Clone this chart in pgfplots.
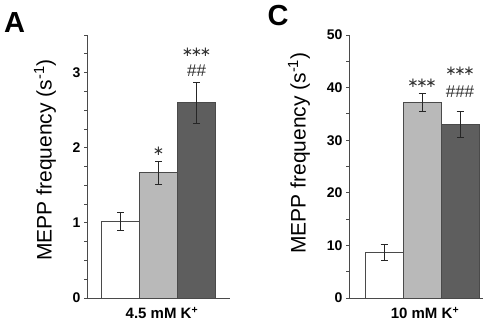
\documentclass[border=0pt]{standalone}
\usepackage{pgfplots}
\pgfplotsset{compat=1.18}
\usepackage{fontspec}
\setmainfont{Liberation Sans}
\newfontfamily\djv{DejaVu Sans}
\definecolor{lg}{HTML}{B9B9B9}
\definecolor{dg}{HTML}{5E5E5E}
\definecolor{ax}{HTML}{4A4A4A}
\definecolor{tx}{HTML}{303030}
\pgfplotsset{
  panel/.style={
    scale only axis, anchor=south west,
    height=263bp,
    axis x line=bottom, axis y line=left,
    axis line style={-, draw=ax, line width=0.9bp},
    xtick=\empty,
    tick align=outside,
    major tick length=3bp, minor tick length=3bp,
    every tick/.style={draw=ax, line width=0.8bp},
    ymin=0,
    /pgf/number format/assume math mode=true,
    tick label style={font=\fontsize{14bp}{16bp}\selectfont\bfseries},
    every axis plot/.append style={ybar, bar width=1, bar shift=0pt, draw=ax, line width=0.9bp,
      error bars/y dir=both, error bars/y explicit,
      error bars/error bar style={draw=black!85, line width=0.8bp},
      error bars/error mark options={rotate=90, mark size=3.5bp, draw=black!85, line width=0.8bp}},
    clip=false,
  },
  ylab/.style={every axis y label/.style={at={(axis description cs:#1)}, rotate=90, anchor=center,
      font=\fontsize{21bp}{24bp}\selectfont}},
  xlab/.style={every axis x label/.style={at={(axis description cs:#1,0)}, anchor=center, yshift=-15bp,
      font=\fontsize{15bp}{17bp}\selectfont\bfseries}},
}
\tikzset{
  star/.style={text=tx, inner sep=0pt, font=\fontsize{13.5bp}{15bp}\djv},
  hash/.style={text=tx, inner sep=0pt, font=\fontsize{17bp}{19bp}\selectfont},
}
\newcommand\three{∗\kern-2.3bp∗\kern-2.3bp∗}
\begin{document}
\begin{tikzpicture}
\path[use as bounding box] (0,0) rectangle (497bp,327bp);
\node[font=\fontsize{29bp}{31bp}\selectfont\bfseries, anchor=center, inner sep=0pt] at (14.5bp,304.5bp) {A};
\node[font=\fontsize{29bp}{31bp}\selectfont\bfseries, anchor=center, inner sep=0pt] at (278bp,311bp) {C};
% Panel A
\begin{axis}[panel, at={(87bp,29bp)}, width=143bp,
  xmin=0.118, xmax=3.88, ymax=3.5,
  ytick={0,1,2,3}, minor ytick={0.25,0.5,0.75,1.25,1.5,1.75,2.25,2.5,2.75,3.25,3.5},
  ylab={-0.294,0.525}, xlab=0.524,
  ylabel={MEPP frequency (s\textsuperscript{-1})},
  xlabel={4.5 mM K\textsuperscript{+}}]
\addplot[fill=white] coordinates {(1,1.02) +- (0,0.115)};
\addplot[fill=lg] coordinates {(2,1.667) +- (0,0.155)};
\addplot[fill=dg] coordinates {(3,2.596) +- (0,0.275)};
\node[star] at (axis cs:2,1.95) {∗};
\node[star] at (axis cs:3,3.27) {\three};
\node[hash] at (axis cs:3,3.02) {\#\#};
\end{axis}
% Panel C
\begin{axis}[panel, at={(349bp,29bp)}, width=134bp,
  xmin=0.079, xmax=3.605, ymax=50,
  ytick={0,10,20,30,40,50}, minor ytick={5,15,25,35,45},
  ylab={-0.373,0.551}, xlab=0.567,
  ylabel={MEPP frequency (s\textsuperscript{-1})},
  xlabel={10 mM K\textsuperscript{+}}]
\addplot[fill=white] coordinates {(1,8.7) +- (0,1.5)};
\addplot[fill=lg] coordinates {(2,37.15) +- (0,1.7)};
\addplot[fill=dg] coordinates {(3,33.0) +- (0,2.45)};
\node[star] at (axis cs:2,40.8) {\three};
\node[star] at (axis cs:3,43.1) {\three};
\node[hash] at (axis cs:3,39.3) {\#\#\#};
\end{axis}
\end{tikzpicture}
\end{document}
